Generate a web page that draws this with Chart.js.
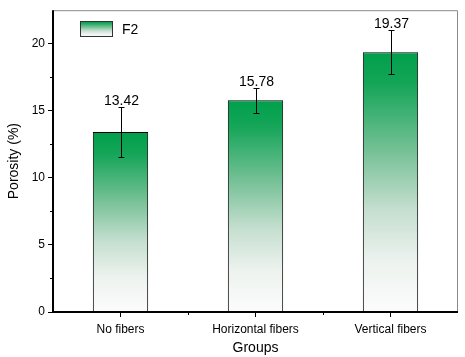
<!DOCTYPE html>
<html><head><meta charset="utf-8">
<script src="https://cdn.jsdelivr.net/npm/chart.js@4"></script>
<style>html,body{margin:0;padding:0;background:#fff}#wrap{width:465px;height:357px}</style>
</head><body><div id="wrap"><canvas id="c" width="465" height="357"></canvas></div>
<script>
const categories = ["No fibers", "Horizontal fibers", "Vertical fibers"];
const porosity = [13.42, 15.78, 19.37];
const errors = [1.9, 0.95, 1.65];
const seriesName = "F2";
const yTicks = [0, 5, 10, 15, 20];

const GREEN = "rgb(0,160,75)";
const FONT = "'Liberation Sans', Arial, sans-serif";

function addStops(g) {
  g.addColorStop(0, "rgb(0,160,75)");
  g.addColorStop(0.12, "rgb(20,165,88)");
  g.addColorStop(0.4, "rgb(125,195,155)");
  g.addColorStop(0.6, "rgb(195,222,206)");
  g.addColorStop(0.8, "rgb(236,242,238)");
  g.addColorStop(1, "rgb(252,252,252)");
  return g;
}

function barGradient(ctx) {
  const chart = ctx.chart;
  const area = chart.chartArea;
  if (!area) return GREEN;
  const y = chart.scales.y;
  const top = y.getPixelForValue(ctx.raw);
  const bot = y.getPixelForValue(0);
  return addStops(chart.ctx.createLinearGradient(0, top, 0, bot));
}

const extras = {
  id: "extras",
  afterDatasetsDraw(chart) {
    const c = chart.ctx, x = chart.scales.x, y = chart.scales.y, a = chart.chartArea;
    c.save();
    // frame top/right
    c.strokeStyle = "#8a8a8a"; c.lineWidth = 1;
    c.beginPath();
    c.moveTo(a.left, a.top + 0.5); c.lineTo(a.right - 0.5, a.top + 0.5); c.lineTo(a.right - 0.5, a.bottom);
    c.stroke();
    // axes
    c.strokeStyle = "#000"; c.lineWidth = 2;
    c.beginPath();
    c.moveTo(a.left, a.top); c.lineTo(a.left, a.bottom); c.lineTo(a.right, a.bottom);
    c.stroke();
    // minor ticks
    c.lineWidth = 1;
    c.beginPath();
    for (let v = 2.5; v < y.max; v += 5) {
      const py = Math.round(y.getPixelForValue(v)) + 0.5;
      c.moveTo(a.left - 3, py); c.lineTo(a.left, py);
    }
    for (let i = 1; i < categories.length; i++) {
      const px = Math.round(x.getPixelForValue(i - 0.5)) + 0.5;
      c.moveTo(px, a.bottom); c.lineTo(px, a.bottom + 3);
    }
    c.stroke();
    // error bars + labels
    const meta = chart.getDatasetMeta(0);
    c.strokeStyle = "#000"; c.lineWidth = 1;
    c.fillStyle = "#000";
    c.font = "14px " + FONT;
    c.textAlign = "center"; c.textBaseline = "alphabetic";
    porosity.forEach((v, i) => {
      const px = Math.round(meta.data[i].x) + 0.5;
      const yt = Math.round(y.getPixelForValue(v + errors[i])) + 0.5;
      const yb = Math.round(y.getPixelForValue(v - errors[i])) + 0.5;
      c.beginPath();
      c.moveTo(px, yt); c.lineTo(px, yb);
      c.moveTo(px - 3, yt); c.lineTo(px + 3, yt);
      c.moveTo(px - 3, yb); c.lineTo(px + 3, yb);
      c.stroke();
      c.fillText(v.toFixed(2), px, yt - 3);
    });
    // legend
    const lx = 80, ly = 21, lw = 33, lh = 16;
    c.fillStyle = addStops(c.createLinearGradient(0, ly, 0, ly + lh));
    c.fillRect(lx, ly, lw, lh);
    c.strokeStyle = "#333"; c.lineWidth = 1;
    c.strokeRect(lx + 0.5, ly + 0.5, lw - 1, lh - 1);
    c.fillStyle = "#000"; c.textAlign = "left"; c.textBaseline = "middle";
    c.fillText(seriesName, lx + lw + 9, ly + lh / 2 + 1);
    c.restore();
  }
};

new Chart(document.getElementById("c"), {
  type: "bar",
  data: {
    labels: categories,
    datasets: [{
      label: seriesName,
      data: porosity,
      backgroundColor: barGradient,
      borderColor: "#000",
      borderWidth: 1,
      borderSkipped: "bottom",
      barPercentage: 0.41,
      categoryPercentage: 1.0
    }]
  },
  options: {
    responsive: false,
    animation: false,
    devicePixelRatio: 1,
    layout: { padding: { left: 2, right: 7, top: 7, bottom: 0 } },
    plugins: { legend: { display: false }, tooltip: { enabled: false } },
    scales: {
      x: {
        offset: true,
        grid: { display: true, drawOnChartArea: false, offset: false, tickLength: 5, color: "#000", tickColor: "#000" },
        border: { display: false },
        ticks: { color: "#000", font: { size: 12, family: FONT }, padding: 5, maxRotation: 0 },
        title: { display: true, text: "Groups", color: "#000", font: { size: 14, family: FONT }, padding: { top: 0, bottom: 0 } },
        afterFit(s) { s.height = 45; }
      },
      y: {
        min: 0, max: 22.5,
        afterBuildTicks(s) { s.ticks = yTicks.map(v => ({ value: v })); },
        grid: { display: true, drawOnChartArea: false, tickLength: 5, color: "#000", tickColor: "#000" },
        border: { display: false },
        ticks: { color: "#000", font: { size: 12, family: FONT }, padding: 3 },
        title: { display: true, text: "Porosity (%)", color: "#000", font: { size: 14, family: FONT }, padding: { top: 4, bottom: 4 } },
        afterFit(s) { s.width = 51; }
      }
    }
  },
  plugins: [extras]
});
</script>
</body></html>
